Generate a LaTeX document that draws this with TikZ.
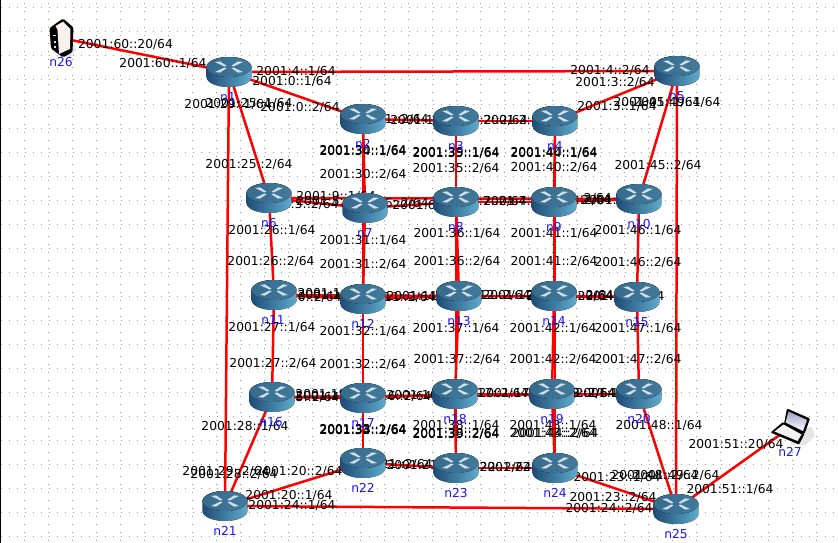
\documentclass[tikz,border=0pt]{standalone}
\usepackage{fontspec}
\setmainfont{DejaVu Sans}
\definecolor{linkred}{HTML}{FF0000}
\definecolor{namblue}{HTML}{1E14FF}
\definecolor{griddot}{HTML}{9A9A9A}
\definecolor{rtop}{HTML}{3B7498}
\definecolor{rleft}{HTML}{1F4C76}
\definecolor{rright}{HTML}{5FABCC}
\definecolor{rmark}{HTML}{CFE0EA}
\tikzset{
  hub/.style={inner sep=0pt,minimum size=0pt,outer sep=0pt},
  linkline/.style={draw=linkred,line width=2.5pt},
  addr/.style={inner sep=0pt,font=\fontsize{12.3}{13}\selectfont,text=black},
  hostname/.style={inner sep=0pt,font=\fontsize{12.3}{13}\selectfont,text=namblue},
  griddots/.style={draw=griddot,line width=1pt,dash pattern=on 1pt off 7pt},
  routerpic/.pic={
    \begin{scope}[y=1pt,x=1pt]
      \fill[left color=rleft,right color=rright] (-22.4,5) -- (-22.4,-5)
        arc[start angle=180,end angle=360,x radius=22.4pt,y radius=10pt]
        -- (22.4,5)
        arc[start angle=0,end angle=180,x radius=22.4pt,y radius=10pt] -- cycle;
      \fill[left color=rtop!92!black,right color=rtop!96!white] (0,5) ellipse[x radius=22.4pt,y radius=10pt];
      \foreach \sx/\sy in {1/1,1/-1,-1/1,-1/-1}{
        \fill[rmark] (\sx*14,5+\sy*5) -- (\sx*9,5+\sy*5.6) -- (\sx*2.5,5+\sy*1.3) -- (\sx*4.5,5+\sy*0.5) -- cycle;
      }
    \end{scope}
  },
}
\begin{document}
\begin{tikzpicture}[x=1pt,y=-1pt]
\useasboundingbox (0,0) rectangle (838,543);
\fill[white] (0,0) rectangle (838,543);
% canvas grid
\foreach \gy in {8,32,...,536} \draw[griddots] (0.5,\gy) -- (838,\gy);
\foreach \gx in {24,48,...,832} \draw[griddots] (\gx,3.5) -- (\gx,543);
\fill[black] (0,0) rectangle (1,543);
% node anchors
\foreach \nm/\x/\y in {n1/229/72,n2/363/119,n3/456/121,n4/555/121,n5/677/71,
  n6/269/198,n7/365/208,n8/456/202,n9/554/202,n10/639/199,
  n11/274/295,n12/363/299,n13/459/296,n14/554/296,n15/637/297,
  n16/272/397,n17/363/398,n18/455/394,n19/552/394,n20/639/394,
  n21/225/506,n22/363/463,n23/456/468,n24/555/468,n25/676/509,
  n26/61/38,n27/795/424}
  \node[hub] (\nm) at (\x,\y) {};
% links
\foreach \a/\b in {n26/n1,n27/n25,
  n1/n2,n2/n3,n3/n4,n4/n5,n1/n5,
  n6/n7,n7/n8,n8/n9,n9/n10,n6/n10,
  n11/n12,n12/n13,n13/n14,n14/n15,n11/n15,
  n16/n17,n17/n18,n18/n19,n19/n20,n16/n20,
  n21/n22,n22/n23,n23/n24,n24/n25,n21/n25,
  n1/n6,n6/n11,n11/n16,n16/n21,n1/n21,
  n2/n7,n7/n12,n12/n17,n17/n22,n2/n22,
  n3/n8,n8/n13,n13/n18,n18/n23,n3/n23,
  n4/n9,n9/n14,n14/n19,n19/n24,n4/n24,
  n5/n10,n10/n15,n15/n20,n20/n25,n5/n25}
  \draw[linkline] (\a) -- (\b);
% interface addresses
\foreach \x/\y/\t [count=\i] in {
  125.5/45/60::20,163/64/60::1,
  296/72/4::1,292/82/0::1,300/108/0::2,228/105/29::1,249/104/25::1,249/165/25::2,
  272/230.5/26::1,271/262/26::2,272/328/27::1,273/364/27::2,245/427/28::1,234/475/28::2,
  226/472/29::2,289/496/20::1,299/472/20::2,292/506/24::1,609/509/24::2,
  617/478/23::1,613/498/23::2,676/476/49::2,655/476/48::2,659/426/48::1,
  736/445/51::20,730/490/51::1,
  610/71/4::2,615/83/3::2,617/107/3::1,677/103/49::1,657/103/45::1,658/166/45::2,
  638/231/46::1,638/263/46::2,638/329/47::1,638/360/47::2,
  553/329/42::1,553/360/42::2,456/329/37::1,457/360/37::2,
  456/426/38::1,456/434/38::2,456/435/39::2,553/426/43::1,553/434/43::2,555/434/44::2,
  363/430/33::1,363/431/33::2,363/431/34::2,
  363/151/30::1,363/151.5/34::1,363/174.5/30::2,363/240.5/31::1,363/265/31::2,
  363/332/32::1,363/365/32::2,
  456/153.5/35::1,456/153/39::1,456/168.5/35::2,457/234/36::1,457/262/36::2,
  554/153/40::1,554/153.5/44::1,554/168/40::2,554/234/41::1,554/262/41::2,
  430/121/1::1,389/120/1::2,523/121/2::1,488/121/2::2,
  336/202/5::1,299/205/5::2,336/197/9::1,572/199/9::2,
  432/206/6::1,389/204/6::2,523/202/7::1,487/202/7::2,621/201/8::1,572/201/8::2,
  341/296/10::1,298/298/10::2,341/294/14::1,570/296/14::2,
  430/297/11::1,392/298/11::2,526/296/12::1,487/296/12::2,621/297/13::1,570/297/13::2,
  339/397/15::1,296/398/15::2,339/395/19::1,572/394/19::2,
  430/396/16::1,388/397/16::2,522/394/17::1,485/394/17::2,619/394/18::1,572/394/18::2,
  430/466/21::1,389/465/21::2,523/468/22::1,488/468/22::2}
  \node[addr] (addr\i) at (\x,\y) {2001:\t/64};
% routers
\foreach \nm in {n1,n2,n3,n4,n5,n6,n7,n8,n9,n10,n11,n12,n13,n14,n15,n16,n17,n18,n19,n20,n21,n22,n23,n24,n25}
  \pic at (\nm) {routerpic};
% server n26
\fill[black!10] (53,52) -- (70,58) -- (76,50) -- (74,44) -- cycle;
\fill[black,rounded corners=1.5pt] (63,18.5) -- (73.5,27.5) -- (72.5,52) -- (63,57.5) -- (51,48.5) -- (49.5,28) -- cycle;
\fill[white!90!brown] (55.5,26) -- (63,21.7) -- (70.5,29) -- (70,49) -- (59,54) -- (57.5,30) -- cycle;
\fill[white!75!gray] (53,35) rectangle (56,36.5);
\fill[white!75!gray] (54,41) rectangle (56,43);
\fill[white!75!gray] (54,46) rectangle (56,48);
% laptop n27
\fill[black!10] (800,428) -- (812,427) -- (815,436) -- (805,445) -- (790,445) -- cycle;
\fill[black,rounded corners=1pt] (787,408.5) -- (810,418.5) -- (804.5,434) -- (784,424) -- cycle;
\shade[top color=blue!25!gray!60,bottom color=white] (788.5,411.5) -- (807,420) -- (803,431) -- (785.5,422.5) -- cycle;
\fill[black,rounded corners=1pt] (783,422) -- (804.5,434) -- (799,444.5) -- (770.5,432.5) -- cycle;
\fill[white!90!gray] (783.5,424.5) -- (801.5,434.5) -- (797.5,441) -- (774.5,431.5) -- cycle;
% host names
\foreach \nm/\x/\y in {n1/228/97,n2/363/144,n3/456/146,n4/555/146,n5/677/96,
  n6/269/223,n7/365/233,n8/456/227,n9/554/227,n10/639/224,
  n11/273/320,n12/363/324,n13/459/321,n14/554/321,n15/637/322,
  n16/271/422,n17/363/423,n18/455/419,n19/552/419,n20/639/419,
  n21/225/531,n22/363/488,n23/456/493,n24/555/493,n25/676/534,
  n26/61/62,n27/790/452}
  \node[hostname] (name\nm) at (\x,\y) {\nm};
\end{tikzpicture}
\end{document}
